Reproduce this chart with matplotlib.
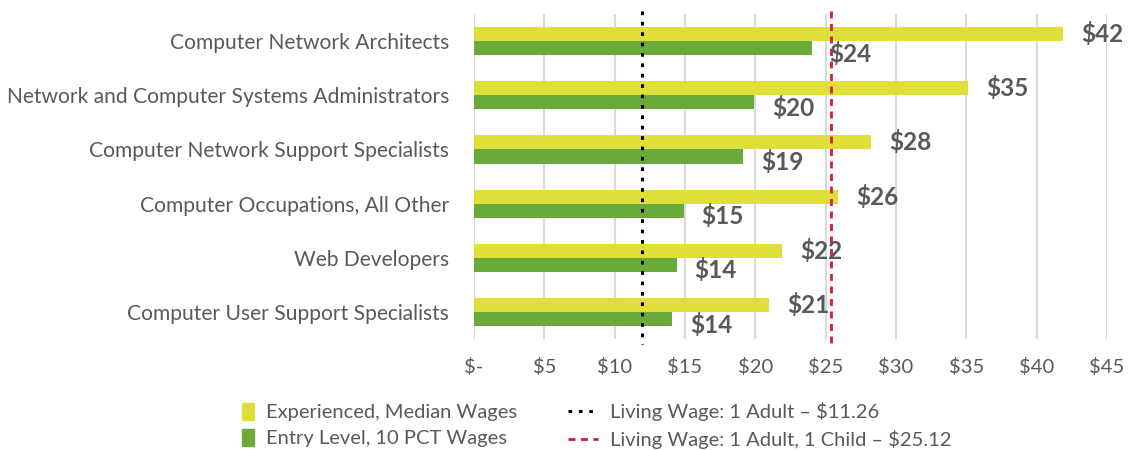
import matplotlib.pyplot as plt
import numpy as np
from matplotlib.patches import Patch, Rectangle
from matplotlib.lines import Line2D
from matplotlib.legend_handler import HandlerPatch

plt.rcParams['font.family'] = ['Lato', 'DejaVu Sans']

occupations = ['Computer Network Architects',
               'Network and Computer Systems Administrators',
               'Computer Network Support Specialists',
               'Computer Occupations, All Other',
               'Web Developers',
               'Computer User Support Specialists']
experienced = [41.9, 35.1, 28.2, 25.9, 21.9, 21.0]
entry = [24.0, 19.9, 19.1, 14.9, 14.4, 14.1]
exp_labels = ['$42', '$35', '$28', '$26', '$22', '$21']
entry_labels = ['$24', '$20', '$19', '$15', '$14', '$14']

# where the living wage lines sit in the picture
wage_1_adult = 11.95
wage_1_adult_1_child = 25.4
xticks = [0, 5, 10, 15, 20, 25, 30, 35, 40, 45]
xtick_labels = ['$-', '$5', '$10', '$15', '$20', '$25', '$30', '$35', '$40', '$45']

yellow = '#E0DF3A'
green = '#6AAA3A'
gray = '#595959'

fig = plt.figure(figsize=(11.3, 4.5), dpi=100)
ax = fig.add_axes([474/1130, 1-339/450, (1107-474)/1130, 325/450])

y = np.arange(len(occupations))
h = 0.26
ax.barh(y - h/2, experienced, height=h, color=yellow, zorder=2)
ax.barh(y + h/2, entry, height=h, color=green, zorder=2)

for i in range(len(occupations)):
    ax.annotate(exp_labels[i], (experienced[i], y[i] - h/2), xytext=(13, 0),
                textcoords='offset points', va='center', ha='left',
                fontsize=17.5, fontweight='bold', color=gray, zorder=4)
    ax.annotate(entry_labels[i], (entry[i], y[i] + h/2), xytext=(13, -4),
                textcoords='offset points', va='center', ha='left',
                fontsize=17.5, fontweight='bold', color=gray, zorder=4)

ax.plot([wage_1_adult]*2, [-0.55, 5.6], color='black', linestyle=(0, (1.2, 2.2)),
        linewidth=2.2, zorder=3, clip_on=False)
ax.plot([wage_1_adult_1_child]*2, [-0.55, 5.6], color='#D0202E', linestyle=(0, (2.5, 2)),
        linewidth=2, zorder=3, clip_on=False)

ax.set_xlim(0, 45)
ax.set_ylim(5.5, -0.5)
ax.set_xticks(xticks)
ax.set_xticklabels(xtick_labels, fontsize=14.5)
ax.set_yticks(y)
ax.set_yticklabels(occupations, fontsize=15.1)
ax.tick_params(axis='both', length=0, colors=gray)
ax.tick_params(axis='y', pad=18)
ax.tick_params(axis='x', pad=14)
ax.grid(True, axis='x', color='#D9D9D9', linewidth=1.5, zorder=0)
ax.set_axisbelow(True)
for s in ax.spines.values():
    s.set_visible(False)


def small_square(legend, orig_handle, xdescent, ydescent, width, height, fontsize):
    w = 0.4 * width
    return Rectangle((-xdescent + width - w, -ydescent - 1), w, height + 2)


handles = [Patch(color=yellow), Patch(color=green),
           Line2D([], [], color='black', linestyle=(0, (1.2, 2.2)), linewidth=2.2),
           Line2D([], [], color='#D0202E', linestyle=(0, (2.5, 2)), linewidth=2)]
names = ['Experienced, Median Wages', 'Entry Level, 10 PCT Wages',
         'Living Wage: 1 Adult – $11.26', 'Living Wage: 1 Adult, 1 Child – $25.12']
leg = fig.legend(handles, names, ncol=2, loc='upper left', bbox_to_anchor=(206/1130, 1-384/450),
                 frameon=False, fontsize=14.5, handlelength=1.5, handleheight=0.7,
                 handletextpad=0.6, columnspacing=2.5, labelspacing=0.45,
                 handler_map={Patch: HandlerPatch(patch_func=small_square)})
for t in leg.get_texts():
    t.set_color(gray)

plt.savefig('out.png', dpi=100)
